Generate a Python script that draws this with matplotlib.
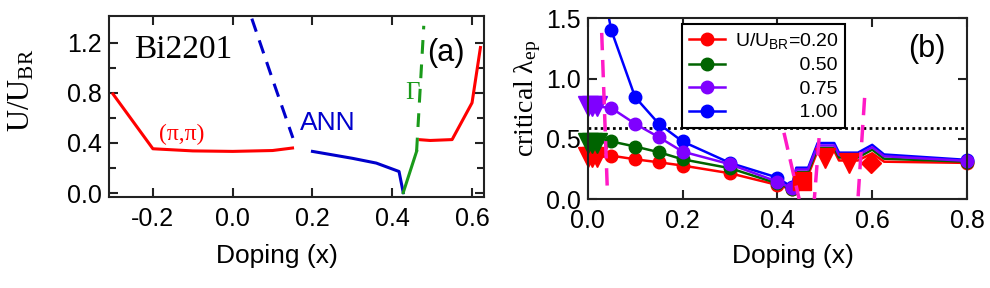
import numpy as np
import matplotlib.pyplot as plt
from matplotlib.lines import Line2D

plt.rcParams['font.family'] = ['Liberation Sans', 'DejaVu Sans']
plt.rcParams['mathtext.default'] = 'regular'

# ---- panel (a): U/U_BR phase boundaries ----
pipi_x = [-0.3, -0.2, -0.1, 0.0, 0.1, 0.15]
pipi_y = [0.79, 0.354, 0.337, 0.333, 0.34, 0.36]
pipi2_x = [0.47, 0.495, 0.55, 0.6, 0.621]
pipi2_y = [0.426, 0.42, 0.427, 0.72, 1.16]
ann_dash_x = [0.048, 0.1, 0.151]
ann_dash_y = [1.39, 0.906, 0.44]
ann_x = [0.2, 0.3, 0.36, 0.417, 0.4275]
ann_y = [0.333, 0.278, 0.24, 0.173, 0.005]
gam_x = [0.4275, 0.461]
gam_y = [0.005, 0.333]
gam_dash_x = [0.461, 0.479]
gam_dash_y = [0.333, 1.333]

# ---- panel (b): critical lambda_ep ----
x_lam = [0.00, 0.01, 0.02, 0.05, 0.10, 0.15, 0.20, 0.30, 0.40, 0.43,
         0.44, 0.465, 0.485, 0.52, 0.53, 0.57, 0.60, 0.625, 0.80]
lam_020 = [0.345, 0.345, 0.345, 0.36, 0.33, 0.305, 0.278, 0.214, 0.117, 0.08,
           0.20, 0.20, 0.40, 0.40, 0.32, 0.32, 0.38, 0.31, 0.30]
lam_050 = [0.465, 0.465, 0.465, 0.478, 0.436, 0.389, 0.33, 0.256, 0.13, 0.085,
           0.225, 0.225, 0.425, 0.425, 0.345, 0.345, 0.41, 0.335, 0.31]
lam_075 = [0.77, 0.77, 0.77, 0.755, 0.625, 0.514, 0.394, 0.289, 0.144, 0.09,
           0.245, 0.245, 0.445, 0.445, 0.365, 0.365, 0.43, 0.355, 0.317]
lam_100 = [2.0, 2.0, 2.0, 1.40, 0.847, 0.625, 0.478, 0.30, 0.178, 0.10,
           0.26, 0.26, 0.465, 0.465, 0.385, 0.385, 0.45, 0.37, 0.325]
u_labels = ['U/U$_{BR}$=0.20', '0.50', '0.75', '1.00']
tri_idx = [0, 1, 2]
circ_idx = [3, 4, 5, 6, 7, 8, 9, 18]

# extra red symbols
sq_x, sq_y = [0.453], [0.153]
tri2_x, tri2_y = [0.50, 0.552], [0.34, 0.30]
dia_x, dia_y = [0.598], [0.30]

# magenta boundaries and threshold
bnd_x = [[0.0296, 0.0415], [0.414, 0.446], [0.488, 0.478], [0.584, 0.57]]
bnd_y = [[1.38, 0.075], [0.55, 0.0], [0.506, 0.0], [0.84, 0.0]]
lam_thr = 0.59

fig = plt.figure(figsize=(9.9, 2.88), dpi=100)
ax1 = fig.add_axes([0.1101, 0.316, 0.3788, 0.628])
ax2 = fig.add_axes([0.5936, 0.309, 0.3832, 0.627])

red_a, blue_a, green_a = '#FF0000', '#0000CC', '#1A9A1A'
lw = 2.2
ax1.plot(pipi_x, pipi_y, color=red_a, lw=lw)
ax1.plot(pipi2_x, pipi2_y, color=red_a, lw=lw)
ax1.plot(ann_dash_x, ann_dash_y, color=blue_a, lw=lw, ls=(0, (4.5, 3)))
ax1.plot(ann_x, ann_y, color=blue_a, lw=lw)
ax1.plot(gam_x, gam_y, color=green_a, lw=lw)
ax1.plot(gam_dash_x, gam_dash_y, color=green_a, lw=lw, ls=(0, (4.5, 3.5)))

ax1.text(-0.2475, 1.14, 'Bi2201', family='Liberation Serif', fontsize=24,
         ha='left', va='center')
ax1.text(0.487, 1.118, '(a)', fontsize=22, ha='left', va='center')
ax1.text(0.238, 0.56, 'ANN', fontsize=19, color=blue_a, ha='center', va='center')
ax1.text(-0.128, 0.47, '(π,π)', family='Liberation Serif', fontsize=17,
         color=red_a, ha='center', va='center')
ax1.text(0.45, 0.80, 'Γ', family='Liberation Serif', fontsize=18,
         color=green_a, ha='center', va='center')

ax1.set_xlim(-0.31, 0.63)
ax1.set_ylim(-0.03, 1.41)
ax1.set_xticks([-0.2, 0.0, 0.2, 0.4, 0.6])
ax1.set_yticks([0.0, 0.4, 0.8, 1.2])
ax1.set_yticks([0.2, 0.6, 1.0], minor=True)
ax1.xaxis.set_major_formatter(plt.FormatStrFormatter('%.1f'))
ax1.yaxis.set_major_formatter(plt.FormatStrFormatter('%.1f'))
ax1.text(0.449, -0.326, 'Doping (x)', transform=ax1.transAxes, fontsize=19,
         ha='center', va='center')
ax1.text(-0.232, 0.59, 'U/U$_{BR}$', transform=ax1.transAxes, rotation=90,
         family='Liberation Serif', fontsize=22, ha='center', va='center')

# panel (b)
cols = ['#FF0000', '#006400', '#7F00FF', '#0000FF']
series = [lam_020, lam_050, lam_075, lam_100]
lw2 = 1.8
for n, k in enumerate([0, 1, 3, 2]):
    ys = series[k]
    c = cols[k]
    z = 2 + n * 0.1
    ax2.plot(x_lam, ys, color=c, lw=lw2, zorder=z)
    ax2.plot([x_lam[i] for i in circ_idx], [ys[i] for i in circ_idx], 'o',
             color=c, ms=9, zorder=z, clip_on=False)
    ax2.plot([x_lam[i] for i in tri_idx], [ys[i] for i in tri_idx], 'v',
             color=c, ms=14, zorder=z, clip_on=False)

ax2.plot(sq_x, sq_y, 's', color=cols[0], ms=13, zorder=3)
ax2.plot(tri2_x, tri2_y, 'v', color=cols[0], ms=14, zorder=3)
ax2.plot(dia_x, dia_y, 'D', color=cols[0], ms=10, zorder=3)

for bx, by in zip(bnd_x, bnd_y):
    ax2.plot(bx, by, color='#FF1AC6', lw=2.5, ls=(0, (5, 2.8)), zorder=4)
ax2.axhline(lam_thr, color='black', lw=2, ls=(0, (1, 1.2)), zorder=1)

# right-align the numbers under the first label by padding with spaces
pad = ' ' * 12
leg_labels = [u_labels[0]] + [pad + s for s in u_labels[1:]]
handles = [Line2D([], [], color=c, lw=lw2, marker='o', ms=9) for c in cols]
leg = ax2.legend(handles, leg_labels, loc='upper left', bbox_to_anchor=(0.249, 0.968),
                 borderaxespad=0, fontsize=14, handlelength=1.85, handletextpad=0.5,
                 labelspacing=0.3, borderpad=0.35, fancybox=False, framealpha=1,
                 edgecolor='black')
leg.get_frame().set_linewidth(1.5)
leg.set_zorder(5)

ax2.text(0.675, 1.25, '(b)', fontsize=22, ha='left', va='center')
ax2.set_xlim(0, 0.8)
ax2.set_ylim(0, 1.5)
ax2.set_xticks([0.0, 0.2, 0.4, 0.6, 0.8])
ax2.set_yticks([0.0, 0.5, 1.0, 1.5])
ax2.xaxis.set_major_formatter(plt.FormatStrFormatter('%.1f'))
ax2.yaxis.set_major_formatter(plt.FormatStrFormatter('%.1f'))
ax2.text(0.541, -0.315, 'Doping (x)', transform=ax2.transAxes, fontsize=19,
         ha='center', va='center')
ax2.text(-0.157, 0.56, 'critical λ$_{ep}$', transform=ax2.transAxes, rotation=90,
         family='Liberation Serif', fontsize=20, ha='center', va='center')

for ax in (ax1, ax2):
    for s in ax.spines.values():
        s.set_linewidth(1.5)
        s.set_color('#222222')
    ax.tick_params(which='both', direction='in', top=True, right=True,
                   labelsize=18, width=1.5, color='#222222')
    ax.tick_params(which='major', length=6.5, pad=5)
    ax.tick_params(which='minor', length=5)
    ax.tick_params(axis='x', pad=7)

fig.savefig('out.png', dpi=100)
